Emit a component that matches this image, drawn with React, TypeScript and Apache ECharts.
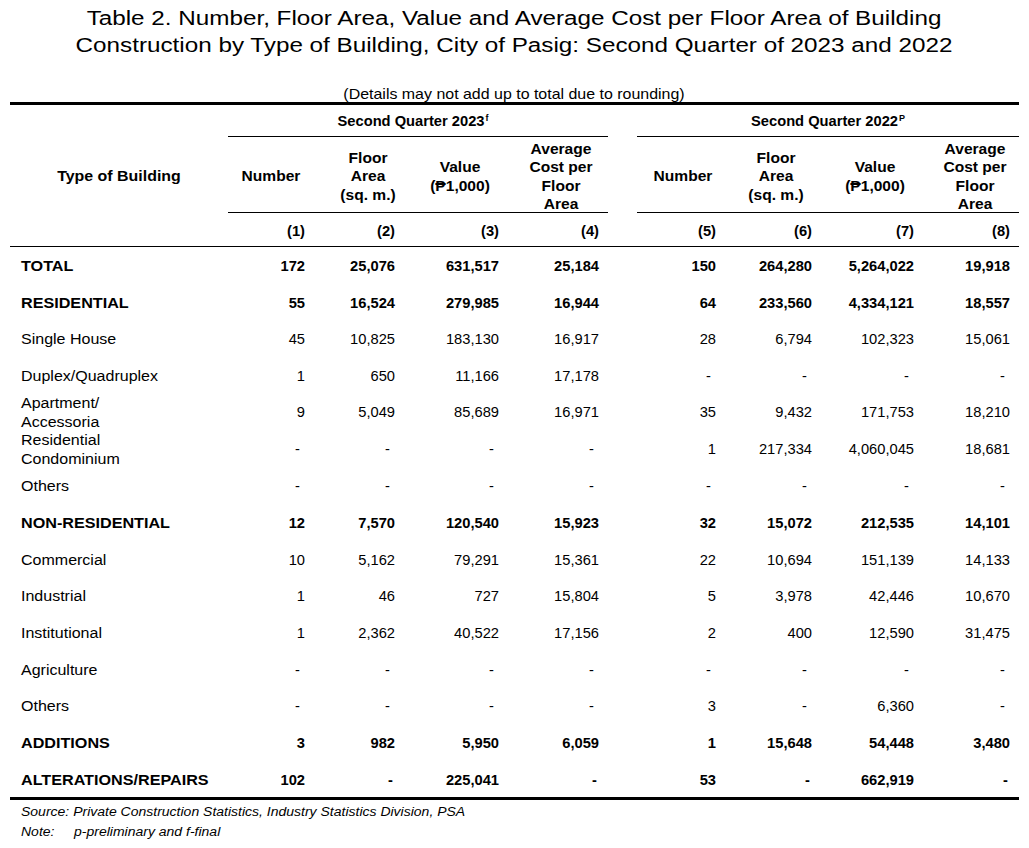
import React, { useEffect, useRef } from "react";
import * as echarts from "echarts";

const titleLines = [
  "Table 2. Number, Floor Area, Value and Average Cost per Floor Area of Building",
  "Construction by Type of Building, City of Pasig: Second Quarter of 2023 and 2022",
];
const subtitle = "(Details may not add up to total due to rounding)";
const groupLabels = ["Second Quarter 2023", "Second Quarter 2022"];
const groupMarks = ["f", "P"];
const colHeaders = [
  "Number",
  "Floor\nArea\n(sq. m.)",
  "Value\n(₱1,000)",
  "Average\nCost per\nFloor\nArea",
  "Number",
  "Floor\nArea\n(sq. m.)",
  "Value\n(₱1,000)",
  "Average\nCost per\nFloor\nArea",
];
const colNumbers = ["(1)", "(2)", "(3)", "(4)", "(5)", "(6)", "(7)", "(8)"];
const rowLabels = [
  "TOTAL",
  "RESIDENTIAL",
  "Single House",
  "Duplex/Quadruplex",
  "Apartment/\nAccessoria",
  "Residential\nCondominium",
  "Others",
  "NON-RESIDENTIAL",
  "Commercial",
  "Industrial",
  "Institutional",
  "Agriculture",
  "Others",
  "ADDITIONS",
  "ALTERATIONS/REPAIRS",
];
const boldRows = [true, true, false, false, false, false, false, true, false, false, false, false, false, true, true];

const number2023 = [172, 55, 45, 1, 9, null, null, 12, 10, 1, 1, null, null, 3, 102];
const floor2023 = [25076, 16524, 10825, 650, 5049, null, null, 7570, 5162, 46, 2362, null, null, 982, null];
const value2023 = [631517, 279985, 183130, 11166, 85689, null, null, 120540, 79291, 727, 40522, null, null, 5950, 225041];
const avg2023 = [25184, 16944, 16917, 17178, 16971, null, null, 15923, 15361, 15804, 17156, null, null, 6059, null];
const number2022 = [150, 64, 28, null, 35, 1, null, 32, 22, 5, 2, null, 3, 1, 53];
const floor2022 = [264280, 233560, 6794, null, 9432, 217334, null, 15072, 10694, 3978, 400, null, null, 15648, null];
const value2022 = [5264022, 4334121, 102323, null, 171753, 4060045, null, 212535, 151139, 42446, 12590, null, 6360, 54448, 662919];
const avg2022 = [19918, 18557, 15061, null, 18210, 18681, null, 14101, 14133, 10670, 31475, null, null, 3480, null];

const sourceNote = "Source: Private Construction Statistics, Industry Statistics Division, PSA";
const noteLabel = "Note:";
const noteText = "p-preliminary and f-final";

const FONT = "'Liberation Sans', Arial, sans-serif";

export default function App() {
  const ref = useRef<HTMLDivElement>(null);
  useEffect(() => {
    if (!ref.current) return;
    const chart = echarts.init(ref.current, null, { renderer: "svg" });
    const columns = [number2023, floor2023, value2023, avg2023, number2022, floor2022, value2022, avg2022];
    const colRight = [305, 395, 499, 599, 716, 812, 914, 1010];
    const colCenter = [271, 368, 460, 561, 683, 776, 875, 975];
    const rowY = [266, 302.5, 339, 376, 412, 449, 486, 523, 560, 596, 633, 670, 706, 743, 780];
    const fs = 14.7;
    const els: any[] = [];
    const txt = (x: number, y: number, text: string, o: any = {}) =>
      els.push({
        type: "text",
        x,
        y,
        scaleX: o.sx ?? 1,
        style: {
          text,
          fontFamily: FONT,
          fontSize: o.fontSize ?? fs,
          fontWeight: o.bold ? "bold" : "normal",
          fontStyle: o.italic ? "italic" : "normal",
          fill: "#000",
          align: o.align ?? "left",
          verticalAlign: o.va ?? "middle",
          lineHeight: o.lineHeight,
          rich: o.rich,
        },
      });
    const line = (x1: number, y1: number, x2: number, y2: number, w: number) =>
      els.push({ type: "line", shape: { x1, y1, x2, y2 }, style: { stroke: "#000", lineWidth: w } });

    txt(514, 18, titleLines[0], { align: "center", fontSize: 21, sx: 1.155 });
    txt(514, 45, titleLines[1], { align: "center", fontSize: 21, sx: 1.155 });
    txt(514, 94, subtitle, { align: "center", fontSize: 14, sx: 1.14 });

    line(10, 103.5, 1019, 103.5, 3);
    line(228, 136.5, 608, 136.5, 1);
    line(637, 136.5, 1019, 136.5, 1);
    line(228, 212.5, 608, 212.5, 1);
    line(637, 212.5, 1019, 212.5, 1);
    line(10, 246.5, 1019, 246.5, 1);
    line(10, 798.5, 1019, 798.5, 3);

    const gCenters = [413, 828];
    groupLabels.forEach((g, i) => {
      txt(gCenters[i], 121, `{a|${g}}{s|${groupMarks[i]}}`, {
        align: "center",
        bold: true,
        rich: {
          a: { fontFamily: FONT, fontSize: fs, fontWeight: "bold" },
          s: { fontFamily: FONT, fontSize: 9, fontWeight: "bold", padding: [0, 0, 6, 1] },
        },
      });
    });

    txt(119, 176, "Type of Building", { align: "center", bold: true, sx: 1.085 });
    colHeaders.forEach((h, i) => {
      txt(colCenter[i], 176, h, { align: "center", bold: true, lineHeight: 18.5, sx: 1.06 });
      txt(colRight[i], 231, colNumbers[i], { align: "right", bold: true });
    });

    rowLabels.forEach((lab, r) => {
      const bold = boldRows[r];
      txt(21, rowY[r], lab, { bold, lineHeight: 18.5, sx: bold ? 1.1 : 1.09 });
      columns.forEach((col, c) => {
        const v = col[r];
        if (v === null || v === undefined) {
          txt(colRight[c] - (bold ? 2 : 5), rowY[r], "-", { align: "right", bold });
        } else {
          txt(colRight[c], rowY[r], v.toLocaleString("en-US"), { align: "right", bold });
        }
      });
    });

    txt(21, 812, sourceNote, { italic: true, fontSize: 13.5, sx: 1.037 });
    txt(21, 832, noteLabel, { italic: true, fontSize: 13.5, sx: 1.037 });
    txt(74, 832, noteText, { italic: true, fontSize: 13.5, sx: 1.037 });

    chart.setOption({
      animation: false,
      backgroundColor: "#fff",
      graphic: { elements: els },
    });
    return () => chart.dispose();
  }, []);
  return <div ref={ref} style={{ width: 1029, height: 848, position: "absolute", left: 0, top: 0 }} />;
}
